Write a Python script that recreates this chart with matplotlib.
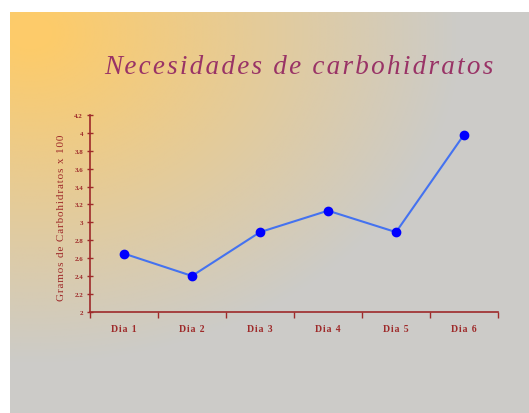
import numpy as np
import matplotlib.pyplot as plt
from matplotlib.ticker import FixedLocator

dias = ['Dia 1', 'Dia 2', 'Dia 3', 'Dia 4', 'Dia 5', 'Dia 6']
gramos = [2.65, 2.40, 2.89, 3.13, 2.89, 3.98]
y_ticks = [2, 2.2, 2.4, 2.6, 2.8, 3, 3.2, 3.4, 3.6, 3.8, 4, 4.2]
y_tick_labels = ['2', '2.2', '2.4', '2.6', '2.8', '3', '3.2', '3.4', '3.6', '3.8', '4', '4.2']

W, H = 529, 414
fig = plt.figure(figsize=(W / 100, H / 100), dpi=100)

# fondo degradado (amarillo arriba-izquierda -> gris)
bg = fig.add_axes([10 / W, 0, 1 - 10 / W, 1 - 13 / H])
bg.set_axis_off()
nx, ny = 519, 401
xx, yy = np.meshgrid(np.arange(nx), np.arange(ny))
d = np.sqrt(((xx - 20) / 430.0) ** 2 + ((yy - 20) / 330.0) ** 2)
t = np.clip((d - 0.05) / 0.95, 0, 1)
c0 = np.array([253, 203, 106]) / 255.0
c1 = np.array([204, 203, 200]) / 255.0
img = c0[None, None, :] * (1 - t[..., None]) + c1[None, None, :] * t[..., None]
bg.imshow(img, aspect='auto', interpolation='bilinear')

red = '#9E2A2A'
ax = fig.add_axes([90 / W, 1 - 312.7 / H, 408 / W, 196.7 / H])
ax.patch.set_alpha(0)
x = np.arange(1, len(dias) + 1)
ax.plot(x, gramos, color='#4472F0', lw=1.5, marker='o', markersize=6,
        markerfacecolor='#0000FF', markeredgecolor='#0000FF', zorder=3)

ax.set_xlim(0.5, len(dias) + 0.5)
ax.set_ylim(2, 4.2)
for s in ['top', 'right']:
    ax.spines[s].set_visible(False)
for s in ['left', 'bottom']:
    ax.spines[s].set_color(red)
    ax.spines[s].set_linewidth(1.2)

ax.set_yticks(y_ticks)
ax.set_yticklabels(y_tick_labels, fontfamily='Liberation Serif', fontweight='bold',
                   fontsize=5, color=red)
ax.tick_params(axis='y', direction='inout', length=4, width=1, color=red, pad=3)

ax.xaxis.set_major_locator(FixedLocator(np.arange(0.5, len(dias) + 1, 1)))
ax.xaxis.set_major_formatter(plt.NullFormatter())
ax.xaxis.set_minor_locator(FixedLocator(x))
ax.set_xticklabels(['\u200a'.join(d) for d in dias], minor=True,
                   fontfamily='Liberation Serif', fontweight='bold',
                   fontsize=7, color=red)
ax.tick_params(axis='x', which='major', direction='out', length=4, width=1, color=red)
ax.tick_params(axis='x', which='minor', length=0, pad=9)

fig.text(299 / W, 1 - 68 / H, '\u200a'.join('Necesidades de carbohidratos'),
         fontfamily='Liberation Serif', fontstyle='italic', fontsize=19.5,
         color='#993366', ha='center', va='center')
fig.text(62 / W, 1 - 218 / H, '\u200a'.join('Gramos de Carbohidratos x 100'),
         fontfamily='Liberation Serif', fontsize=8, color=red,
         rotation=90, ha='center', va='center')

fig.savefig('out.png', dpi=100)
